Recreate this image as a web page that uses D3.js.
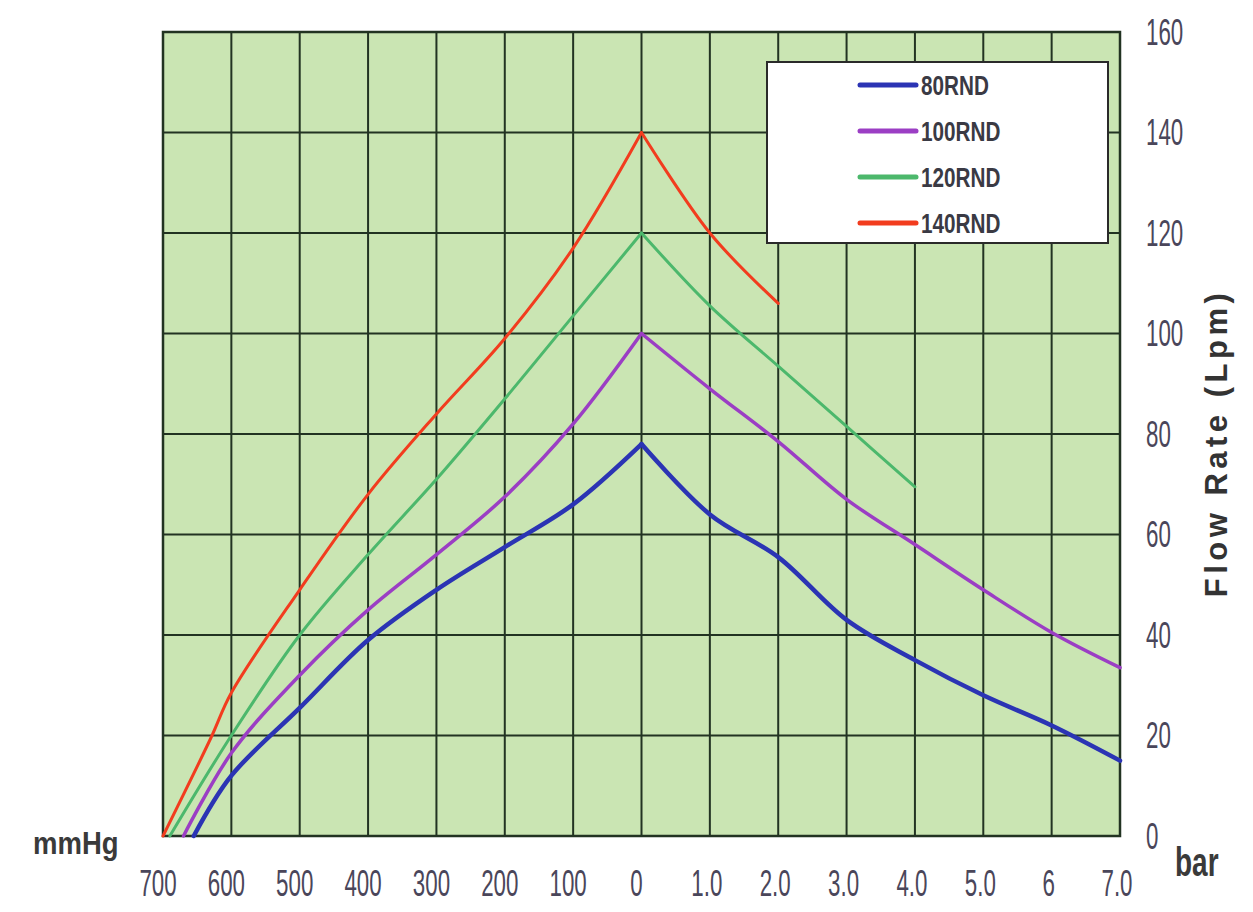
<!DOCTYPE html>
<html>
<head>
<meta charset="utf-8">
<script src="https://cdn.jsdelivr.net/npm/d3@7/dist/d3.min.js"></script>
<style>
  html, body { margin: 0; padding: 0; background: #ffffff; }
  svg { display: block; }
</style>
</head>
<body>
<svg id="chart" width="1253" height="912"></svg>
<script>
// ---------- data ----------
const vacuumTicks = [700, 600, 500, 400, 300, 200, 100, 0];          // mmHg (left half)
const pressureTicks = ["1.0", "2.0", "3.0", "4.0", "5.0", "6", "7.0"]; // bar (right half)
const flowTicks = [0, 20, 40, 60, 80, 100, 120, 140, 160];            // Lpm

const seriesNames = ["80RND", "100RND", "120RND", "140RND"];
const seriesColors = ["#2b34b4", "#9b3ec4", "#4cb86c", "#f23c1e"];

// vacuum side: [mmHg, Lpm]
const vac80  = [[655, 0], [600, 12], [500, 25.5], [400, 39], [300, 49], [200, 57.5], [100, 66], [0, 78]];
const vac100 = [[670, 0], [600, 16.5], [500, 32], [400, 45], [300, 56], [200, 67.5], [100, 82], [0, 100]];
const vac120 = [[690, 0], [600, 20], [500, 40], [400, 56], [300, 71], [200, 87], [100, 103.5], [0, 120]];
const vac140 = [[700, 0], [630, 19.5], [600, 28.5], [500, 49], [400, 68], [300, 84], [200, 99], [100, 117], [0, 140]];

// pressure side: [bar, Lpm]
const pr80  = [[0, 78], [1, 64], [2, 55.5], [3, 43], [4, 35], [5, 28], [6, 22], [7, 15]];
const pr100 = [[0, 100], [1, 89], [2, 78.5], [3, 67], [4, 58], [5, 49], [6, 40.5], [7, 33.5]];
const pr120 = [[0, 120], [1, 105.5], [2, 93.5], [3, 81.5], [4, 69.5]];
const pr140 = [[0, 140], [1, 120], [2, 106]];

const vacuumData = [vac80, vac100, vac120, vac140];
const pressureData = [pr80, pr100, pr120, pr140];

// ---------- layout ----------
const svg = d3.select("#chart");
const plot = { left: 163, right: 1120, top: 32, bottom: 836 };

// composite axis: vacuum (mmHg/100, to the left of 0) and pressure (bar, to the right)
const x = d3.scaleLinear().domain([-7, 7]).range([plot.left, plot.right]);
const y = d3.scaleLinear().domain([0, 160]).range([plot.bottom, plot.top]);
const vacX = v => x(-v / 100);
const barX = b => x(b);

// background
svg.append("rect")
  .attr("x", plot.left).attr("y", plot.top)
  .attr("width", plot.right - plot.left).attr("height", plot.bottom - plot.top)
  .attr("fill", "#cae5b3");

// grid
const gridColor = "#223322";
const gx = [...vacuumTicks.map(v => vacX(v)), ...pressureTicks.map(b => barX(+b))];
svg.append("g").selectAll("line").data(gx).join("line")
  .attr("x1", d => d).attr("x2", d => d)
  .attr("y1", plot.top).attr("y2", plot.bottom)
  .attr("stroke", gridColor).attr("stroke-width", 2);
svg.append("g").selectAll("line").data(flowTicks).join("line")
  .attr("x1", plot.left).attr("x2", plot.right)
  .attr("y1", d => y(d)).attr("y2", d => y(d))
  .attr("stroke", gridColor).attr("stroke-width", 2);
svg.append("rect")
  .attr("x", plot.left).attr("y", plot.top)
  .attr("width", plot.right - plot.left).attr("height", plot.bottom - plot.top)
  .attr("fill", "none").attr("stroke", gridColor).attr("stroke-width", 2.5);

// curves
const widths = [4.5, 3.5, 3, 3];
const lineVac = d3.line().x(d => vacX(d[0])).y(d => y(d[1])).curve(d3.curveCatmullRom.alpha(0.5));
const lineBar = d3.line().x(d => barX(d[0])).y(d => y(d[1])).curve(d3.curveCatmullRom.alpha(0.5));
const curves = svg.append("g");
seriesNames.forEach((name, i) => {
  const vd = vacuumData[i].slice().sort((a, b) => b[0] - a[0]);
  curves.append("path").attr("d", lineVac(vd))
    .attr("fill", "none").attr("stroke", seriesColors[i]).attr("stroke-width", widths[i])
    .attr("stroke-linejoin", "round").attr("stroke-linecap", "round");
  curves.append("path").attr("d", lineBar(pressureData[i]))
    .attr("fill", "none").attr("stroke", seriesColors[i]).attr("stroke-width", widths[i])
    .attr("stroke-linejoin", "round").attr("stroke-linecap", "round");
});

// text helper (condensed tall font)
function txt(g, s, tx, ty, opts) {
  const o = Object.assign({ size: 36, sx: 0.62, anchor: "middle", fill: "#4a465a", weight: "normal", baseline: "central" }, opts || {});
  return g.append("text")
    .attr("transform", `translate(${tx},${ty}) scale(${o.sx},1)`)
    .attr("text-anchor", o.anchor)
    .attr("dominant-baseline", o.baseline)
    .attr("font-family", "'Liberation Sans', Arial, sans-serif")
    .attr("font-size", o.size)
    .attr("font-weight", o.weight)
    .attr("fill", o.fill)
    .text(s);
}

// bottom axis labels
const axisG = svg.append("g");
vacuumTicks.forEach(v => txt(axisG, String(v), vacX(v) - 5, 883));
pressureTicks.forEach(b => txt(axisG, b, barX(+b) - 3, 883));

// right axis labels
flowTicks.forEach(f => txt(axisG, String(f), 1146, y(f), { anchor: "start" }));

// unit labels
txt(axisG, "mmHg", 33, 843, { size: 32, sx: 0.86, anchor: "start", weight: "bold", fill: "#3a3a3a" });
txt(axisG, "bar", 1175, 862, { size: 40, sx: 0.7, anchor: "start", weight: "bold", fill: "#3a3a3a" });

// y axis title (rotated)
svg.append("text")
  .attr("transform", "translate(1227,443) rotate(-90)")
  .attr("text-anchor", "middle")
  .attr("font-family", "'Liberation Sans', Arial, sans-serif")
  .attr("font-size", 31)
  .attr("font-weight", "bold")
  .attr("letter-spacing", 4.5)
  .attr("fill", "#333333")
  .text("Flow Rate (Lpm)");

// legend
const leg = svg.append("g");
leg.append("rect")
  .attr("x", 767).attr("y", 62).attr("width", 341).attr("height", 181)
  .attr("fill", "#ffffff").attr("stroke", "#2a2a2a").attr("stroke-width", 2);
const legY = [85, 131, 177, 223];
seriesNames.forEach((name, i) => {
  leg.append("line")
    .attr("x1", 860).attr("x2", 916).attr("y1", legY[i]).attr("y2", legY[i])
    .attr("stroke", seriesColors[i]).attr("stroke-width", 5).attr("stroke-linecap", "round");
  txt(leg, name, 921, legY[i], { size: 28, sx: 0.74, anchor: "start", weight: "bold", fill: "#3a3a44" });
});
</script>
</body>
</html>
